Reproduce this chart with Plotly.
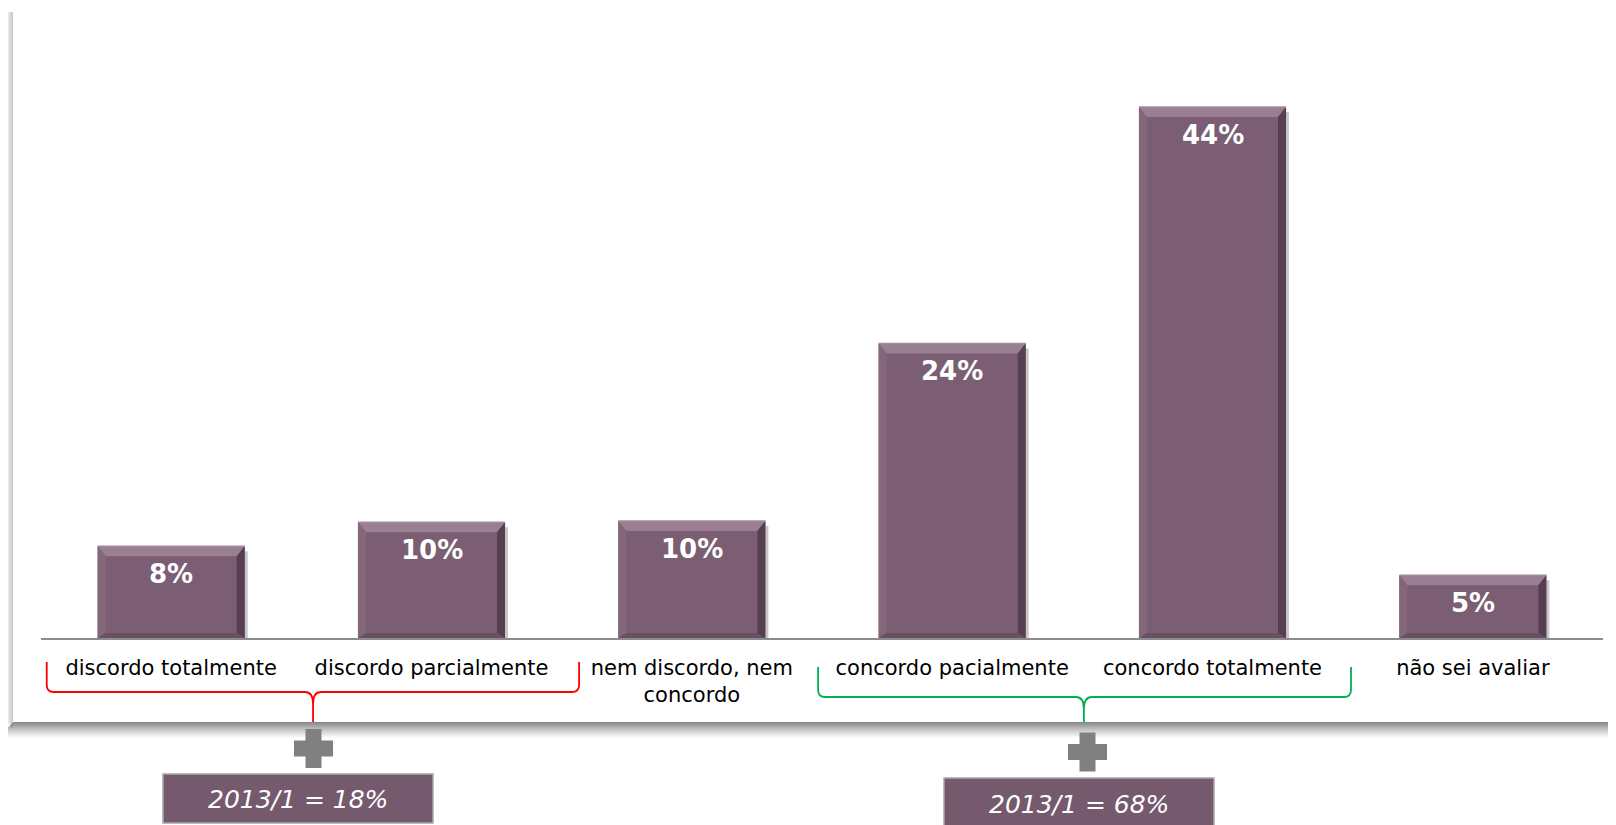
import plotly.graph_objects as go

# data
categories = ["discordo totalmente", "discordo parcialmente", "nem discordo, nem<br>concordo",
              "concordo pacialmente", "concordo totalmente", "não sei avaliar"]
values = [7.6, 9.6, 9.7, 24.4, 44.0, 5.2]
value_labels = [f"{round(v)}%" for v in values]

# groups summed under the braces: (first pos, last pos, tip pos) in category units
group_spans = [(-0.478, 1.567, 0.545), (2.485, 4.532, 3.506)]
group_colors = ["#FF0000", "#00B050"]
group_totals = [18, 68]

# page geometry: the figure sits at (8, 8) in the page because of the body margin,
# so everything below is worked out in page pixels and converted
PAGE_W, PAGE_H = 1616, 825
OFF = 8
W, H = PAGE_W - OFF, PAGE_H - OFF
PX0, PX1 = 41, 1603          # plot area, page x
PY0, PY1 = OFF, 638          # plot area, page y (top, axis)
PW, PH = PX1 - PX0, PY1 - PY0
PX_PER_UNIT = 12.07
YMAX = PH / PX_PER_UNIT
NCAT = len(categories)

BAR_W = 0.565
BAR = "#7B5E73"
BEVEL_TOP = "#9A7E92"
BEVEL_LEFT = "#846779"
BEVEL_RIGHT = "#553F50"
BEVEL_BOTTOM = "#6A5063"
FONT = "DejaVu Sans"


def fx(xp):
    return (xp - PX0) / PW


def fy(yp):
    return (PY1 - yp) / PH


def cpx(pos):
    # category position -> page x
    return PX0 + (pos + 0.5) * PW / NCAT


def ppath(points, close=True):
    s = "M" + " L".join(f"{fx(x)},{fy(y)}" for x, y in points)
    return s + (" Z" if close else "")


shapes = []

# panel shadow, left edge and bottom edge
for k in range(7):
    a = 0.32 * (1 - k / 7)
    shapes.append(dict(type="rect", xref="paper", yref="paper", layer="below",
                       x0=fx(12 - k), x1=fx(13 - k), y0=fy(722 + 6 - k), y1=fy(12),
                       fillcolor=f"rgba(90,90,90,{a:.3f})", line_width=0))
for k in range(16):
    a = 0.85 * (1 - k / 16) ** 1.2
    shapes.append(dict(type="rect", xref="paper", yref="paper", layer="below",
                       x0=fx(13 - min(k, 6)), x1=fx(PAGE_W + 5), y0=fy(723 + k), y1=fy(722 + k),
                       fillcolor=f"rgba(115,115,115,{a:.3f})", line_width=0))

# bevels on the bars, in axis units
dx = 8 * NCAT / PW
dy = 10 / PX_PER_UNIT
dyb = 5 / PX_PER_UNIT
sx = 3 * NCAT / PW
for i, v in enumerate(values):
    xl, xr = i - BAR_W / 2, i + BAR_W / 2
    # drop shadow on the right
    shapes.append(dict(type="rect", xref="x", yref="y", layer="below",
                       x0=xr, x1=xr + sx, y0=0, y1=v - dyb,
                       fillcolor="rgba(0,0,0,0.22)", line_width=0))
    polys = [
        ([(xl, v), (xr, v), (xr - dx, v - dy), (xl + dx, v - dy)], BEVEL_TOP),
        ([(xl, v), (xl + dx, v - dy), (xl + dx, dyb), (xl, 0)], BEVEL_LEFT),
        ([(xl, 0), (xr, 0), (xr - dx, dyb), (xl + dx, dyb)], BEVEL_BOTTOM),
        ([(xr, v), (xr, 0), (xr - dx, dyb), (xr - dx, v - dy)], BEVEL_RIGHT),
    ]
    for pts, col in polys:
        path = "M" + " L".join(f"{x},{y}" for x, y in pts) + " Z"
        shapes.append(dict(type="path", xref="x", yref="y", path=path,
                           fillcolor=col, line_width=0))
    # thin highlight along the top edge
    shapes.append(dict(type="line", xref="x", yref="y", x0=xl, x1=xr, y0=v, y1=v,
                       line=dict(color="#A48A9D", width=1.5)))

# braces
brace_y = [(662, 692), (667, 697)]
for (p0, p1, pt), col, (ytop, ymid) in zip(group_spans, group_colors, brace_y):
    xl, xr, xc = cpx(p0), cpx(p1), cpx(pt)
    ytip, r = 722, 7
    d = (f"M{fx(xl)},{fy(ytop)} L{fx(xl)},{fy(ymid - r)} "
         f"Q{fx(xl)},{fy(ymid)} {fx(xl + r)},{fy(ymid)} "
         f"L{fx(xc - 8)},{fy(ymid)} Q{fx(xc)},{fy(ymid)} {fx(xc)},{fy(ymid + 12)} "
         f"L{fx(xc)},{fy(ytip)} L{fx(xc)},{fy(ymid + 12)} "
         f"Q{fx(xc)},{fy(ymid)} {fx(xc + 8)},{fy(ymid)} "
         f"L{fx(xr - r)},{fy(ymid)} Q{fx(xr)},{fy(ymid)} {fx(xr)},{fy(ymid - r)} "
         f"L{fx(xr)},{fy(ytop)}")
    shapes.append(dict(type="path", xref="paper", yref="paper", path=d,
                       fillcolor="rgba(0,0,0,0)", line=dict(color=col, width=1.8)))

# plus signs and total boxes
plus_centers = [(313.5, 748.5), (1087.5, 752)]
boxes = [(163, 774, 433, 823), (944, 778, 1214, 830)]
annotations = []
for (cx, cy), (bx0, by0, bx1, by1), tot in zip(plus_centers, boxes, group_totals):
    h, a = 19.5, 8
    pts = [(cx - a, cy - h), (cx + a, cy - h), (cx + a, cy - a), (cx + h, cy - a),
           (cx + h, cy + a), (cx + a, cy + a), (cx + a, cy + h), (cx - a, cy + h),
           (cx - a, cy + a), (cx - h, cy + a), (cx - h, cy - a), (cx - a, cy - a)]
    shapes.append(dict(type="path", xref="paper", yref="paper", path=ppath(pts),
                       fillcolor="#808080", line_width=0))
    shapes.append(dict(type="rect", xref="paper", yref="paper",
                       x0=fx(bx0), x1=fx(bx1), y0=fy(by1), y1=fy(by0),
                       fillcolor="#755A6E", line=dict(color="#A6A6A6", width=1.5)))
    ty = 799 if tot == group_totals[0] else 804
    annotations.append(dict(xref="paper", yref="paper", x=fx((bx0 + bx1) / 2),
                            y=fy(ty), text=f"<i>2013/1 = {tot}%</i>",
                            showarrow=False, xanchor="center", yanchor="middle",
                            font=dict(family=FONT, size=25, color="white")))

# value labels inside the bars
for i, (v, lab) in enumerate(zip(values, value_labels)):
    annotations.append(dict(x=i, y=v, xref="x", yref="y", text=f"<b>{lab}</b>",
                            showarrow=False, yanchor="middle", yshift=-28,
                            font=dict(family=FONT, size=26, color="white")))

fig = go.Figure(go.Bar(
    x=list(range(NCAT)), y=values, width=BAR_W,
    marker=dict(color=BAR, line_width=0),
    hoverinfo="skip",
))

fig.update_layout(
    width=W, height=H,
    margin=dict(l=PX0 - OFF, r=W - (PX1 - OFF), t=PY0 - OFF, b=H - (PY1 - OFF)),
    paper_bgcolor="white", plot_bgcolor="white",
    showlegend=False,
    shapes=shapes, annotations=annotations,
    font=dict(family=FONT),
    xaxis=dict(range=[-0.5, NCAT - 0.5], tickvals=list(range(NCAT)), ticktext=categories,
               tickfont=dict(family=FONT, size=21, color="black"), ticklabelstandoff=10,
               showline=True, linecolor="#8C8C8C", linewidth=1.5,
               showgrid=False, zeroline=False, ticks="", fixedrange=True),
    yaxis=dict(range=[0, YMAX], visible=False, fixedrange=True),
)

fig.write_html("out.html")
